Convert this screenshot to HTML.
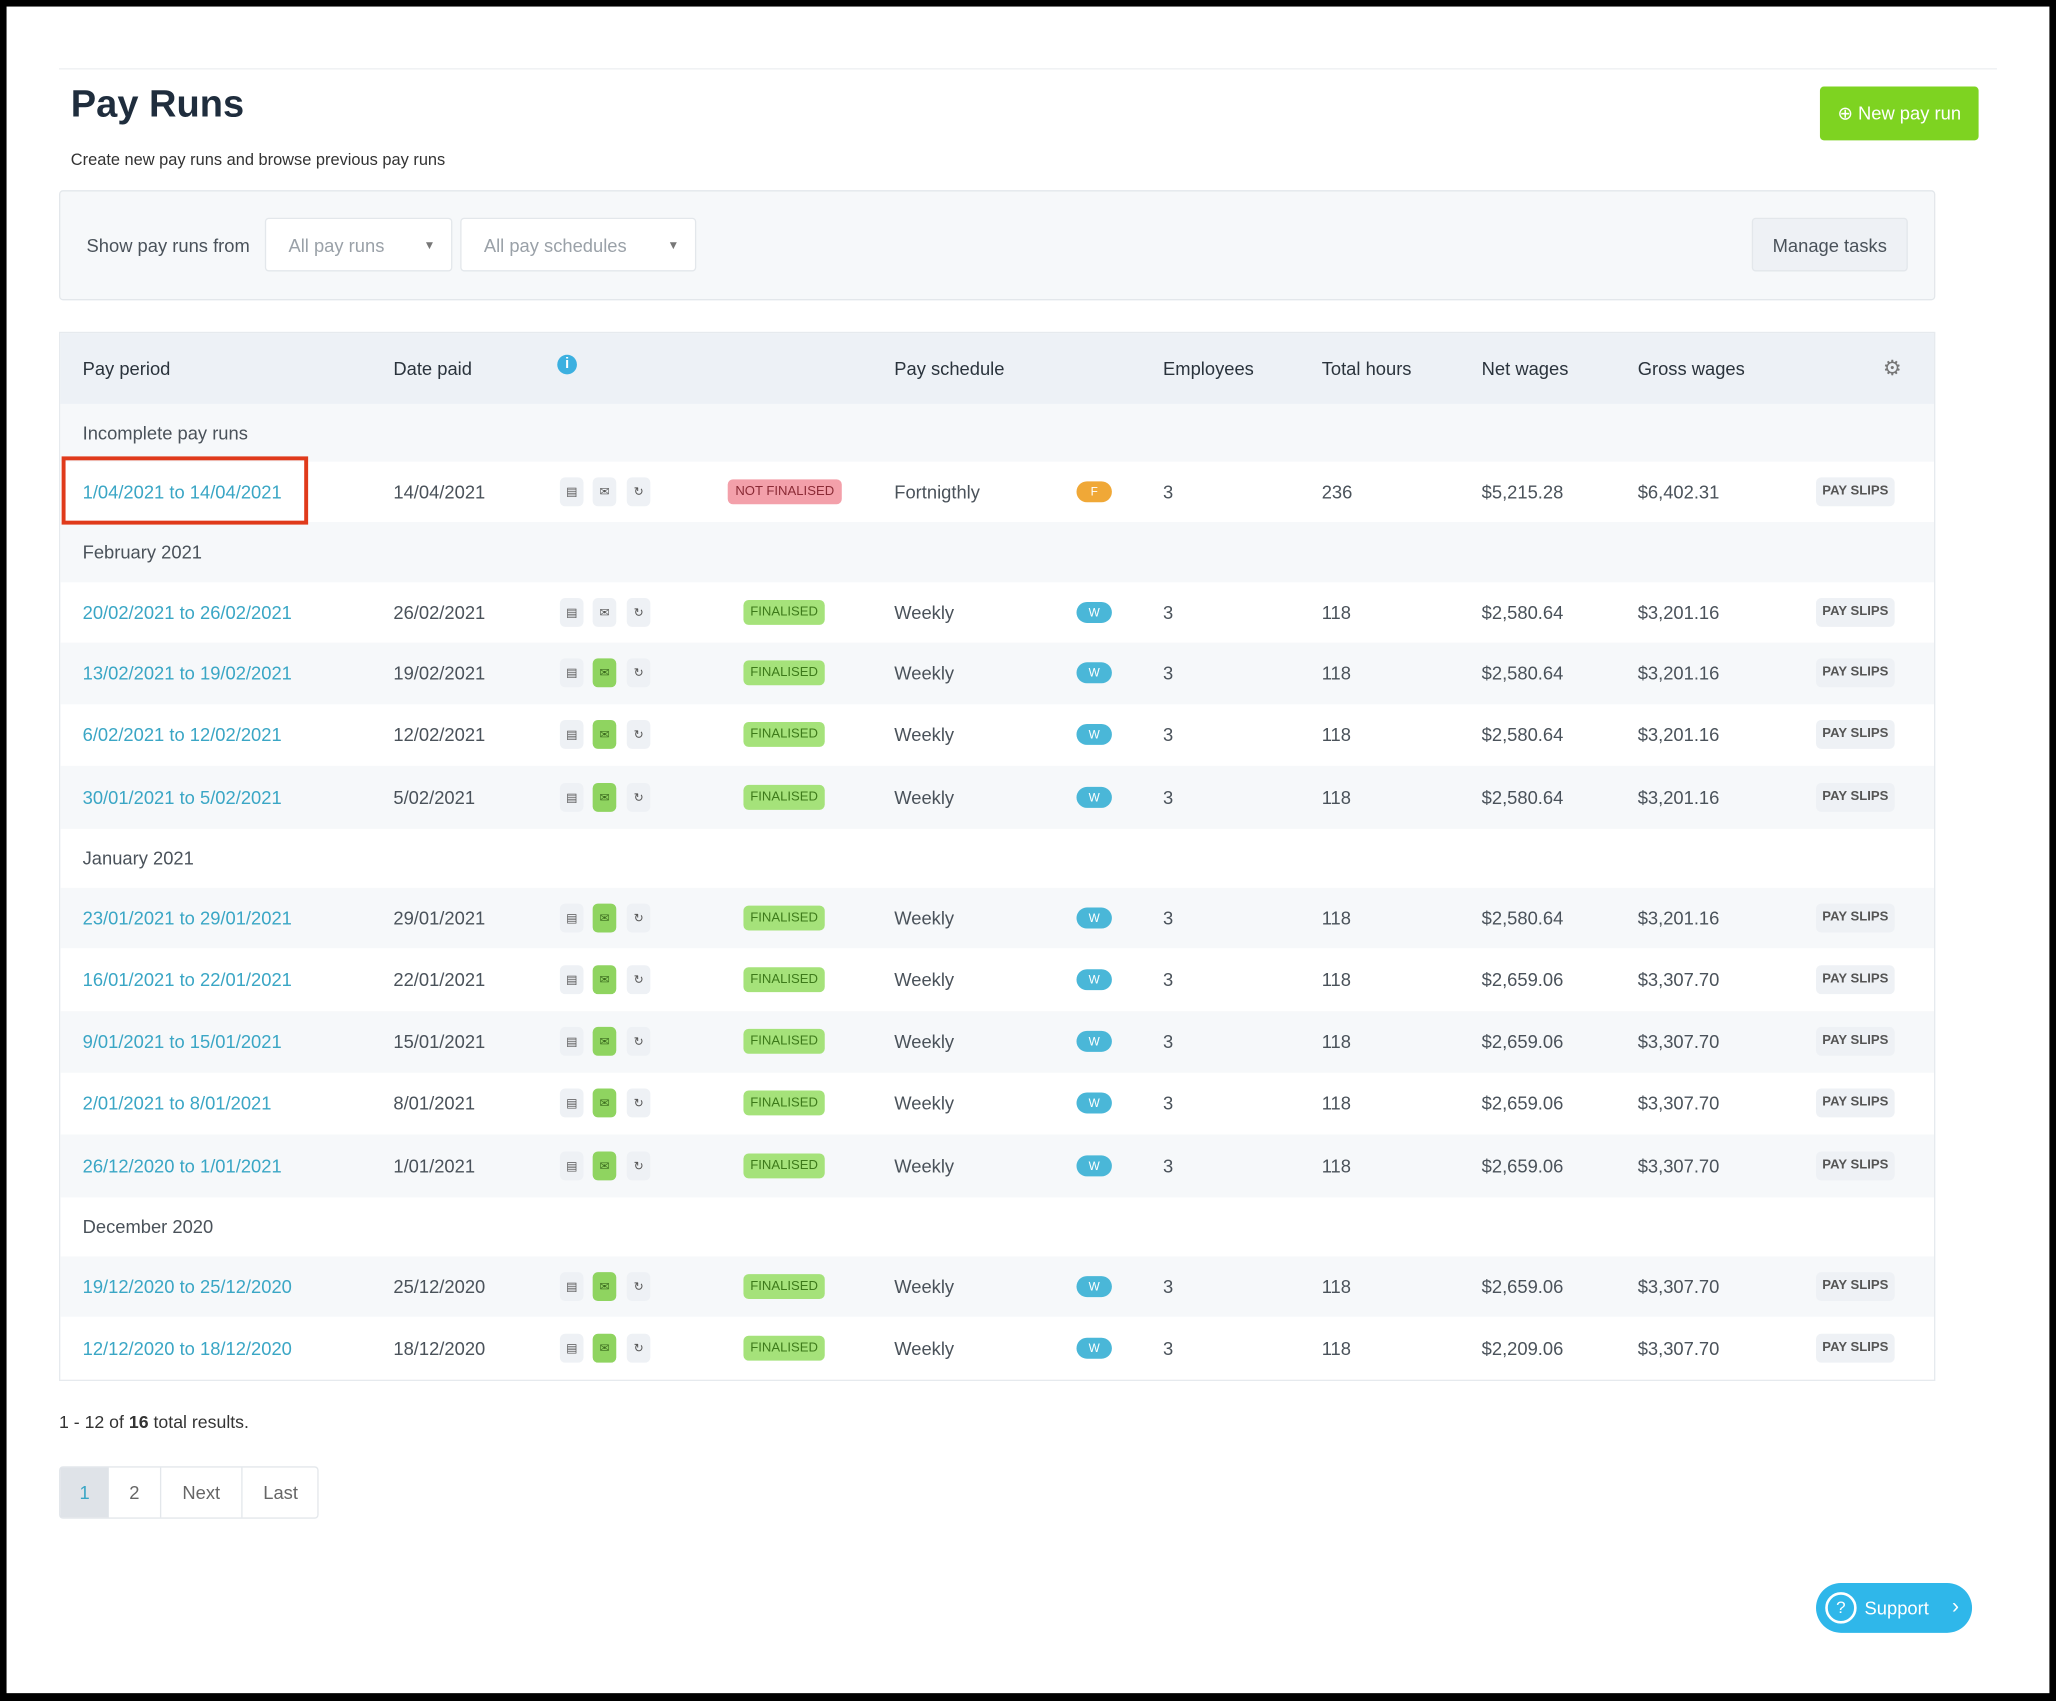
<!DOCTYPE html>
<html><head><meta charset="utf-8"><style>
*{box-sizing:border-box;margin:0;padding:0}
html,body{width:2056px;height:1701px;overflow:hidden;background:#000}
#wrap{position:absolute;left:0;top:0;width:1568px;height:1297px;transform:scale(1.3112,1.3115);transform-origin:0 0;font-family:"Liberation Sans",sans-serif;color:#3c4650}
.pg{position:absolute;left:5px;top:5px;width:1558px;height:1286px;background:#fff}
.a{position:absolute;white-space:nowrap}
.tbl{position:absolute;left:45px;top:253px;width:1431px;height:800px;border:1px solid #e6eaee;background:#fff}
.row{position:absolute;left:0;width:1429px}
.l{background:#f6f8fa}
.c{position:absolute;top:50%;transform:translateY(-50%);font-size:14px;color:#4a525a}
.lnk{color:#3aa6c5}
.ic{position:absolute;top:50%;transform:translateY(-50%);width:18px;height:22px;border-radius:4px;background:#eef1f5;font-size:9px;color:#555;text-align:center;line-height:22px}
.ic.g{background:#8fd460;color:#3b6b1e}
.st{position:absolute;top:50%;transform:translateY(-50%);height:19px;border-radius:4px;font-size:10px;text-align:center;line-height:19px}
.fin{left:521px;width:62px;background:#a5e27a;color:#3d7a1a}
.nf{left:509px;width:87px;background:#f3a0aa;color:#8a2a35}
.bd{position:absolute;left:775px;top:50%;transform:translateY(-50%);width:27px;height:16px;border-radius:8px;background:#4ab7d8;color:#fff;font-size:9px;text-align:center;line-height:16px}
.ps{position:absolute;left:1339px;top:50%;transform:translateY(-50%);width:60px;height:22px;border-radius:4px;background:#eef1f5;color:#555;font-size:10px;font-weight:bold;text-align:center;line-height:22px}
.grp{font-size:14px;color:#4a525a}
</style></head><body><div id="wrap"><div class="pg"></div>
<div class="a" style="left:45px;top:52px;width:1478px;height:1px;background:#eceff2"></div>
<div class="a" style="left:54px;top:64px;font-size:29px;font-weight:bold;color:#1f2d3d">Pay Runs</div>
<div class="a" style="left:54px;top:115px;font-size:12.5px;color:#333">Create new pay runs and browse previous pay runs</div>
<div class="a" style="left:1388px;top:66px;width:121px;height:41px;background:#7ed321;border-radius:3px;color:#fff;font-size:14px;line-height:41px;text-align:center">&#x2295; New pay run</div>
<div class="a" style="left:45px;top:145px;width:1431px;height:84px;background:#f6f8fa;border:1px solid #e3e7eb;border-radius:3px"></div>
<div class="a" style="left:66px;top:179px;font-size:14px;color:#4a525a">Show pay runs from</div>
<div class="a" style="left:202px;top:166px;width:143px;height:41px;background:#fff;border:1px solid #e3e7eb;border-radius:3px;font-size:14px;color:#9aa1a8;line-height:40px;padding-left:17px">All pay runs<span style="position:absolute;right:12px;font-size:9px;color:#777">&#9660;</span></div>
<div class="a" style="left:351px;top:166px;width:180px;height:41px;background:#fff;border:1px solid #e3e7eb;border-radius:3px;font-size:14px;color:#9aa1a8;line-height:40px;padding-left:17px">All pay schedules<span style="position:absolute;right:12px;font-size:9px;color:#777">&#9660;</span></div>
<div class="a" style="left:1336px;top:166px;width:119px;height:41px;background:#eef1f5;border:1px solid #e3e7eb;border-radius:3px;font-size:14px;color:#4a525a;line-height:40px;text-align:center">Manage tasks</div>
<div class="tbl">
<div class="row" style="top:0;height:54px;background:#edf1f6">
<div class="c" style="left:17px;color:#2a333c">Pay period</div><div class="c" style="left:254px;color:#2a333c">Date paid</div>
<div class="c" style="left:379px;width:15px;height:15px;border-radius:50%;background:#3cb0e0;color:#fff;font-size:11px;text-align:center;line-height:15px;font-weight:bold;margin-top:-3px">i</div>
<div class="c" style="left:636px;color:#2a333c">Pay schedule</div><div class="c" style="left:841px;color:#2a333c">Employees</div><div class="c" style="left:962px;color:#2a333c">Total hours</div><div class="c" style="left:1084px;color:#2a333c">Net wages</div><div class="c" style="left:1203px;color:#2a333c">Gross wages</div><div class="c" style="left:1390px;color:#777;font-size:16px">&#9881;</div>
</div>
<div id="rows"></div>
</div>
<div class="a" style="left:47px;top:348px;width:188px;height:52px;border:3px solid #e03a1b"></div>
<div class="a" style="left:45px;top:1077px;font-size:13.5px;color:#333">1 - 12 of <b>16</b> total results.</div>
<div class="a" style="left:45px;top:1118px;width:198px;height:40px;border:1px solid #e3e7eb;border-radius:3px;font-size:14px;color:#666;line-height:38px">
<span class="a" style="left:0;width:37px;height:38px;background:#dfe3e8;color:#3aa6c5;text-align:center">1</span>
<span class="a" style="left:37px;width:40px;text-align:center;border-right:1px solid #e3e7eb">2</span>
<span class="a" style="left:77px;width:62px;text-align:center;border-right:1px solid #e3e7eb">Next</span>
<span class="a" style="left:139px;width:58px;text-align:center">Last</span></div>
<div class="a" style="left:1385px;top:1207px;width:119px;height:38px;background:#2fb7ea;border-radius:19px;color:#fff;font-size:14px;line-height:38px;padding-left:37px">Support<span style="position:absolute;left:7px;top:7px;width:24px;height:24px;border:2px solid #fff;border-radius:50%;line-height:20px;text-align:center;font-size:13px">?</span><span style="position:absolute;right:10px;font-size:16px">&#8250;</span></div>
</div>
<script>
var d=[["g","Incomplete pay runs"],["r","1/04/2021 to 14/04/2021","14/04/2021","nf","Fortnigthly","F","236","$5,215.28","$6,402.31",0],
["g","February 2021"],["r","20/02/2021 to 26/02/2021","26/02/2021","f","Weekly","W","118","$2,580.64","$3,201.16",0],
["r","13/02/2021 to 19/02/2021","19/02/2021","f","Weekly","W","118","$2,580.64","$3,201.16",1],
["r","6/02/2021 to 12/02/2021","12/02/2021","f","Weekly","W","118","$2,580.64","$3,201.16",1],
["r","30/01/2021 to 5/02/2021","5/02/2021","f","Weekly","W","118","$2,580.64","$3,201.16",1],
["g","January 2021"],["r","23/01/2021 to 29/01/2021","29/01/2021","f","Weekly","W","118","$2,580.64","$3,201.16",1],
["r","16/01/2021 to 22/01/2021","22/01/2021","f","Weekly","W","118","$2,659.06","$3,307.70",1],
["r","9/01/2021 to 15/01/2021","15/01/2021","f","Weekly","W","118","$2,659.06","$3,307.70",1],
["r","2/01/2021 to 8/01/2021","8/01/2021","f","Weekly","W","118","$2,659.06","$3,307.70",1],
["r","26/12/2020 to 1/01/2021","1/01/2021","f","Weekly","W","118","$2,659.06","$3,307.70",1],
["g","December 2020"],["r","19/12/2020 to 25/12/2020","25/12/2020","f","Weekly","W","118","$2,659.06","$3,307.70",1],
["r","12/12/2020 to 18/12/2020","18/12/2020","f","Weekly","W","118","$2,209.06","$3,307.70",1]];
var cs=[329,373,420,465,512,559,607,654,698,746,793,840,888,935,979,1027];
var b=[307];for(var k=0;k<cs.length-1;k++)b.push((cs[k]+cs[k+1])/2);b.push(1051);
var h="";
d.forEach(function(r,i){var cl=i%2==0?"l":"";var y=b[i]-253,H=b[i+1]-b[i];
h+='<div class="row '+cl+'" style="top:'+y+'px;height:'+H+'px">';
if(r[0]=="g")h+='<div class="c grp" style="left:17px">'+r[1]+'</div>';
else{h+='<div class="c lnk" style="left:17px">'+r[1]+'</div><div class="c" style="left:254px">'+r[2]+'</div>'+
'<div class="ic" style="left:381px">&#9636;</div><div class="ic'+(r[9]?' g':'')+'" style="left:406px">&#9993;</div><div class="ic" style="left:432px">&#8635;</div>'+
(r[3]=="nf"?'<div class="st nf">NOT FINALISED</div>':'<div class="st fin">FINALISED</div>')+
'<div class="c" style="left:636px">'+r[4]+'</div><div class="bd" style="'+(r[5]=="F"?"background:#f0a837":"")+'">'+r[5]+'</div>'+
'<div class="c" style="left:841px">3</div><div class="c" style="left:962px">'+r[6]+'</div><div class="c" style="left:1084px">'+r[7]+'</div><div class="c" style="left:1203px">'+r[8]+'</div><div class="ps">PAY SLIPS</div>';}
h+='</div>';});
document.getElementById("rows").innerHTML=h;
</script>
</body></html>
